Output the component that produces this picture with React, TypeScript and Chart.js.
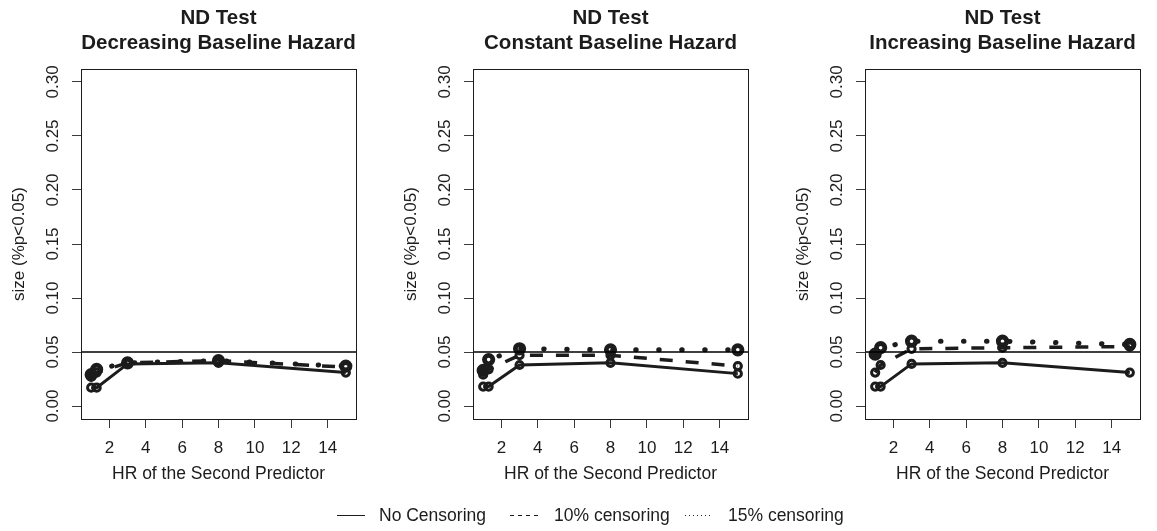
import React, { useEffect, useRef } from "react";
import { Chart, registerables } from "chart.js";

Chart.register(...registerables);

// Hazard ratios of the second predictor (x positions of the simulated settings)
const hrValues = [1, 1.3, 3, 8, 15];
const xTicks = [2, 4, 6, 8, 10, 12, 14];
const yTicks = [0, 0.05, 0.1, 0.15, 0.2, 0.25, 0.3];
const yTickLabels = ["0.00", "0.05", "0.10", "0.15", "0.20", "0.25", "0.30"];
const nominalLevel = 0.05;

const panelTitles = [
  "Decreasing Baseline Hazard",
  "Constant Baseline Hazard",
  "Increasing Baseline Hazard",
];
const seriesNames = ["No Censoring", "10% censoring", "15% censoring"];

// Empirical size (% of p < 0.05) of the ND test
const decreasingNoCens = [0.017, 0.017, 0.039, 0.040, 0.031];
const decreasingCens10 = [0.027, 0.031, 0.040, 0.042, 0.036];
const decreasingCens15 = [0.029, 0.034, 0.040, 0.042, 0.037];

const constantNoCens = [0.018, 0.018, 0.038, 0.040, 0.030];
const constantCens10 = [0.029, 0.034, 0.047, 0.047, 0.037];
const constantCens15 = [0.033, 0.043, 0.053, 0.052, 0.052];

const increasingNoCens = [0.018, 0.018, 0.039, 0.040, 0.031];
const increasingCens10 = [0.031, 0.038, 0.053, 0.054, 0.055];
const increasingCens15 = [0.048, 0.054, 0.060, 0.060, 0.057];

const panelSeries = [
  [decreasingNoCens, decreasingCens10, decreasingCens15],
  [constantNoCens, constantCens10, constantCens15],
  [increasingNoCens, increasingCens10, increasingCens15],
];

const X_MIN = 0.44;
const X_MAX = 15.56;
const Y_MIN = -0.012;
const Y_MAX = 0.312;

const INK = "#1c1c1c";
const TICK_INK = "#3a3a3a";
const FONT = "'Liberation Sans', Arial, Helvetica, sans-serif";

Chart.defaults.font.family = FONT;
Chart.defaults.color = INK;

const CANVAS_W = 373;
const CANVAS_H = 500;
const PANEL_LEFT = [0, 392, 784];

const seriesStyles = [
  { borderWidth: 3, borderDash: [] as number[], borderCapStyle: "butt", pointRadius: 3.6, pointBorderWidth: 3 },
  { borderWidth: 3.5, borderDash: [13, 13], borderCapStyle: "butt", pointRadius: 3.6, pointBorderWidth: 3 },
  { borderWidth: 5, borderDash: [0.5, 22.5], borderCapStyle: "round", pointRadius: 4.2, pointBorderWidth: 4.8 },
];

// Frame around the plotting region
const plotBox = {
  id: "plotBox",
  afterDatasetsDraw(chart: any) {
    const { ctx, chartArea } = chart;
    const l = Math.round(chartArea.left);
    const t = Math.round(chartArea.top);
    const r = Math.round(chartArea.right);
    const b = Math.round(chartArea.bottom);
    ctx.save();
    ctx.strokeStyle = INK;
    ctx.lineWidth = 1;
    ctx.setLineDash([]);
    ctx.strokeRect(l + 0.5, t + 0.5, r - l, b - t);
    ctx.restore();
  },
};

function makeConfig(title: string, series: number[][]): any {
  const datasets: any[] = [
    {
      label: "nominal",
      data: [
        { x: X_MIN, y: nominalLevel },
        { x: X_MAX, y: nominalLevel },
      ],
      borderColor: "#000000",
      borderWidth: 1.4,
      pointRadius: 0,
    },
  ];
  series.forEach((vals, i) => {
    const s = seriesStyles[i];
    datasets.push({
      label: seriesNames[i],
      data: hrValues.map((x, j) => ({ x, y: vals[j] })),
      borderColor: INK,
      borderWidth: s.borderWidth,
      borderDash: s.borderDash,
      borderCapStyle: s.borderCapStyle,
      pointRadius: s.pointRadius,
      pointBorderWidth: s.pointBorderWidth,
      pointBorderColor: INK,
      pointBackgroundColor: "rgba(0,0,0,0)",
      tension: 0,
    });
  });

  return {
    type: "line",
    data: { datasets },
    plugins: [plotBox],
    options: {
      responsive: false,
      animation: false,
      events: [],
      layout: { padding: { left: 0, right: 17, top: 0, bottom: 0 } },
      plugins: {
        legend: { display: false },
        tooltip: { enabled: false },
        title: {
          display: true,
          fullSize: false,
          text: ["ND Test", title],
          color: INK,
          font: { family: FONT, size: 20.5, weight: "bold", lineHeight: 24.5 / 20.5 },
          padding: { top: 6.25, bottom: 13.75 },
        },
      },
      scales: {
        x: {
          type: "linear",
          min: X_MIN,
          max: X_MAX,
          afterBuildTicks: (axis: any) => {
            axis.ticks = xTicks.map((v) => ({ value: v }));
          },
          afterFit: (axis: any) => {
            axis.height = 81;
          },
          grid: { drawOnChartArea: false, drawTicks: true, tickLength: 9, color: TICK_INK, lineWidth: 1 },
          border: { display: false },
          ticks: {
            color: INK,
            font: { size: 17 },
            padding: 9.8,
            minRotation: 0,
            maxRotation: 0,
            autoSkip: false,
            callback: (v: any) => String(v),
          },
          title: {
            display: true,
            text: "HR of the Second Predictor",
            color: INK,
            font: { size: 17.5 },
            padding: { top: 0, bottom: 15.8 },
          },
        },
        y: {
          type: "linear",
          min: Y_MIN,
          max: Y_MAX,
          afterBuildTicks: (axis: any) => {
            axis.ticks = yTicks.map((v) => ({ value: v }));
          },
          afterFit: (axis: any) => {
            axis.width = 81;
          },
          grid: { drawOnChartArea: false, drawTicks: true, tickLength: 9, color: TICK_INK, lineWidth: 1 },
          border: { display: false },
          ticks: {
            color: INK,
            font: { size: 17 },
            padding: 2.5,
            minRotation: 90,
            maxRotation: 90,
            crossAlign: "center",
            autoSkip: false,
            callback: (_v: any, i: number) => yTickLabels[i],
          },
          title: {
            display: true,
            text: "size (%p<0.05)",
            color: INK,
            font: { size: 17 },
            padding: { top: 9.1, bottom: 0 },
          },
        },
      },
    },
  };
}

function Panel({ left, title, series }: { left: number; title: string; series: number[][] }) {
  const ref = useRef<HTMLCanvasElement>(null);
  useEffect(() => {
    if (!ref.current) return;
    const chart = new Chart(ref.current, makeConfig(title, series));
    return () => chart.destroy();
  }, [title, series]);
  return (
    <canvas
      ref={ref}
      width={CANVAS_W}
      height={CANVAS_H}
      style={{ position: "absolute", left, top: 0, width: CANVAS_W, height: CANVAS_H }}
    />
  );
}

const legendItems = [
  { lineX: 337, textX: 379, dash: "" },
  { lineX: 510, textX: 554, dash: "4 4" },
  { lineX: 685, textX: 728, dash: "1 3" },
];

function Legend() {
  const y = 515;
  return (
    <>
      <svg
        width={1157}
        height={531}
        style={{ position: "absolute", left: 0, top: 0, pointerEvents: "none" }}
      >
        {legendItems.map((it, i) => (
          <line
            key={i}
            x1={it.lineX}
            x2={it.lineX + 28}
            y1={y + 0.5}
            y2={y + 0.5}
            stroke={INK}
            strokeWidth={1}
            strokeDasharray={it.dash || undefined}
          />
        ))}
      </svg>
      {legendItems.map((it, i) => (
        <div
          key={i}
          style={{
            position: "absolute",
            left: it.textX,
            top: y - 11,
            height: 22,
            lineHeight: "22px",
            fontFamily: FONT,
            fontSize: 17.5,
            color: INK,
            whiteSpace: "nowrap",
          }}
        >
          {seriesNames[i]}
        </div>
      ))}
    </>
  );
}

export default function App() {
  return (
    <div
      style={{
        position: "absolute",
        left: 0,
        top: 0,
        width: 1157,
        height: 531,
        overflow: "hidden",
        background: "#ffffff",
      }}
    >
      {panelTitles.map((t, i) => (
        <Panel key={t} left={PANEL_LEFT[i]} title={t} series={panelSeries[i]} />
      ))}
      <Legend />
    </div>
  );
}
